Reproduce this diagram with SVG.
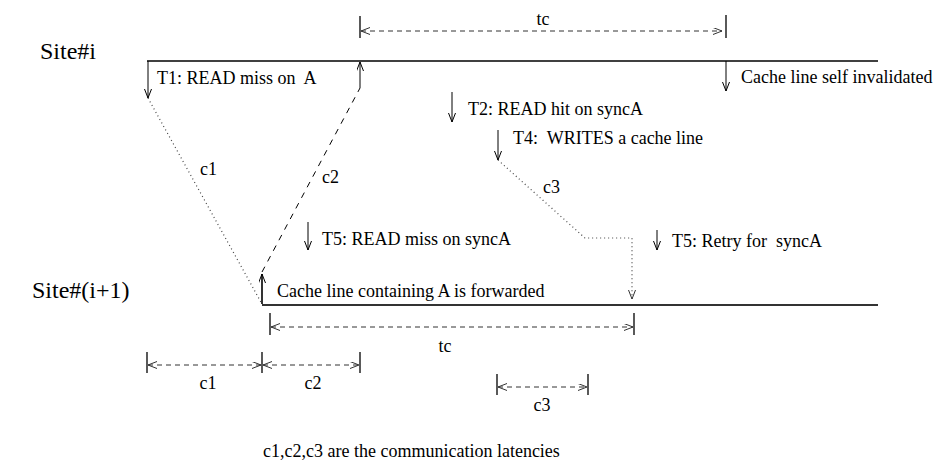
<svg xmlns="http://www.w3.org/2000/svg" width="940" height="472" viewBox="0 0 940 472">
  <defs>
    <marker id="ah" markerUnits="userSpaceOnUse" markerWidth="12" markerHeight="10" refX="9" refY="3.5" orient="auto-start-reverse">
      <path d="M0,0 L9,3.5 L0,7" fill="none" stroke="#000" stroke-width="1"/>
    </marker>
    <marker id="ahg" markerUnits="userSpaceOnUse" markerWidth="12" markerHeight="10" refX="9" refY="3.5" orient="auto-start-reverse">
      <path d="M0,0 L9,3.5 L0,7" fill="none" stroke="#333" stroke-width="1"/>
    </marker>
    <style>
      text { font-family: "Liberation Serif", "Times New Roman", serif; font-size: 18px; fill: #000; white-space: pre; }
      .site { font-size: 24px; }
      .mid { text-anchor: middle; }
      .ev { stroke: #000; stroke-width: 1; fill: none; marker-end: url(#ah); }
      .evb { stroke: #000; stroke-width: 1.6; fill: none; marker-end: url(#ah); }
      .tick { stroke: #000; stroke-width: 1.3; }
      .dim { stroke: #333; stroke-width: 1; stroke-dasharray: 5 4; fill: none; marker-start: url(#ahg); marker-end: url(#ahg); }
      .dot { stroke: #444; stroke-width: 1.2; stroke-dasharray: 1 3; fill: none; }
      .dash { stroke: #000; stroke-width: 1; stroke-dasharray: 6 6; fill: none; }
    </style>
  </defs>

  <g id="site-i">
    <text class="site" x="40" y="59">Site#i</text>
    <line x1="147" y1="61" x2="878" y2="61" stroke="#000" stroke-width="1.3"/>
  </g>

  <g id="site-i1">
    <text class="site" x="32" y="298">Site#(i+1)</text>
    <line x1="262" y1="305" x2="878" y2="305" stroke="#333" stroke-width="2"/>
  </g>

  <g id="t1">
    <line class="ev" x1="148" y1="61" x2="148" y2="98"/>
    <text x="157" y="84">T1: READ miss on  A</text>
  </g>

  <g id="invalidate">
    <line class="ev" x1="726" y1="61" x2="726" y2="91"/>
    <text x="741" y="83">Cache line self invalidated</text>
  </g>

  <g id="t2">
    <line class="ev" x1="452" y1="92" x2="452" y2="122"/>
    <text x="468" y="115">T2: READ hit on syncA</text>
  </g>

  <g id="t4">
    <line class="ev" x1="498" y1="130" x2="498" y2="160"/>
    <text x="513" y="144">T4:  WRITES a cache line</text>
  </g>

  <g id="t5-miss">
    <line class="ev" x1="308" y1="222" x2="308" y2="250"/>
    <text x="322" y="245">T5: READ miss on syncA</text>
  </g>

  <g id="t5-retry">
    <line class="ev" x1="657" y1="230" x2="657" y2="250"/>
    <text x="672" y="247">T5: Retry for  syncA</text>
  </g>

  <g id="forward">
    <line class="evb" x1="262" y1="304" x2="262" y2="274"/>
    <text x="277" y="297">Cache line containing A is forwarded</text>
  </g>

  <g id="connectors">
    <line class="dot" x1="148" y1="98" x2="262" y2="304"/>
    <text x="200" y="175">c1</text>
    <line class="dash" x1="262" y1="272" x2="360" y2="88"/>
    <line class="ev" x1="360" y1="88" x2="360" y2="62"/>
    <text x="322" y="183">c2</text>
    <polyline class="dot" points="498,160 585,238 632,238 632,299" marker-end="url(#ahg)"/>
    <text x="543" y="193">c3</text>
  </g>

  <g id="dim-tc-top">
    <line class="tick" x1="360" y1="16" x2="360" y2="38"/>
    <line class="tick" x1="726" y1="15" x2="726" y2="38"/>
    <line class="dim" x1="361" y1="31" x2="722" y2="31"/>
    <text class="mid" x="543" y="25">tc</text>
  </g>

  <g id="dim-tc-bottom">
    <line class="tick" x1="270" y1="313" x2="270" y2="335"/>
    <line class="tick" x1="634" y1="313" x2="634" y2="335"/>
    <line class="dim" x1="271" y1="327" x2="633" y2="327"/>
    <text class="mid" x="445" y="352">tc</text>
  </g>

  <g id="dim-c1-c2">
    <line class="tick" x1="147" y1="352" x2="147" y2="373"/>
    <line class="tick" x1="262" y1="352" x2="262" y2="373"/>
    <line class="tick" x1="360" y1="352" x2="360" y2="373"/>
    <line class="dim" x1="148" y1="365" x2="261" y2="365"/>
    <line class="dim" x1="263" y1="365" x2="359" y2="365"/>
    <text class="mid" x="208" y="389">c1</text>
    <text class="mid" x="313" y="389">c2</text>
  </g>

  <g id="dim-c3">
    <line class="tick" x1="497" y1="374" x2="497" y2="395"/>
    <line class="tick" x1="588" y1="374" x2="588" y2="395"/>
    <line class="dim" x1="498" y1="387" x2="587" y2="387"/>
    <text class="mid" x="542" y="411">c3</text>
  </g>

  <g id="caption">
    <text x="263" y="457">c1,c2,c3 are the communication latencies</text>
  </g>
</svg>
